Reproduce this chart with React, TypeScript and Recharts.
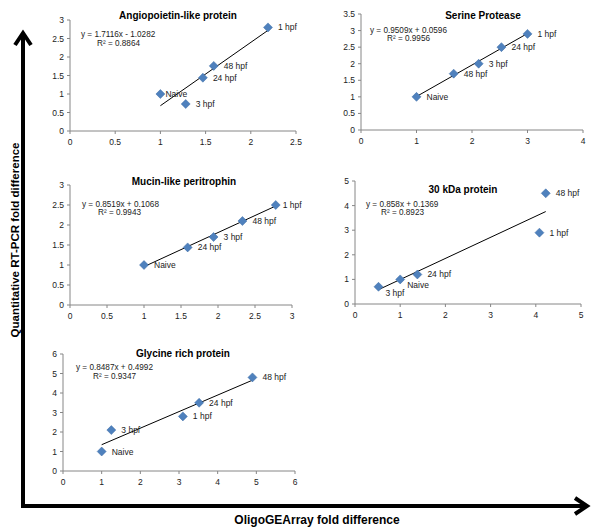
import React from "react";
import { ScatterChart, Scatter, XAxis, YAxis } from "recharts";

// ---------- DATA ----------
const angLabels = ["Naive", "3 hpf", "24 hpf", "48 hpf", "1 hpf"];
const angX = [1, 1.28, 1.47, 1.59, 2.19];
const angY = [1, 0.73, 1.44, 1.76, 2.8];
const angXTicks = [0, 0.5, 1, 1.5, 2, 2.5];
const angYTicks = [0, 0.5, 1, 1.5, 2, 2.5, 3];

const serLabels = ["Naive", "48 hpf", "3 hpf", "24 hpf", "1 hpf"];
const serX = [1, 1.67, 2.12, 2.53, 3.0];
const serY = [1, 1.7, 2.0, 2.5, 2.9];
const serXTicks = [0, 1, 2, 3, 4];
const serYTicks = [0, 0.5, 1, 1.5, 2, 2.5, 3, 3.5];

const mucLabels = ["Naive", "24 hpf", "3 hpf", "48 hpf", "1 hpf"];
const mucX = [1, 1.59, 1.94, 2.33, 2.78];
const mucY = [1, 1.44, 1.7, 2.1, 2.5];
const mucXTicks = [0, 0.5, 1, 1.5, 2, 2.5, 3];
const mucYTicks = [0, 0.5, 1, 1.5, 2, 2.5, 3];

const kdaLabels = ["3 hpf", "Naive", "24 hpf", "1 hpf", "48 hpf"];
const kdaX = [0.52, 1, 1.38, 4.08, 4.22];
const kdaY = [0.7, 1, 1.2, 2.9, 4.5];
const kdaXTicks = [0, 1, 2, 3, 4, 5];
const kdaYTicks = [0, 1, 2, 3, 4, 5];

const glyLabels = ["Naive", "3 hpf", "1 hpf", "24 hpf", "48 hpf"];
const glyX = [1, 1.25, 3.1, 3.52, 4.9];
const glyY = [1, 2.1, 2.8, 3.5, 4.8];
const glyXTicks = [0, 1, 2, 3, 4, 5, 6];
const glyYTicks = [0, 1, 2, 3, 4, 5, 6];

// trendline coefficients (slope, intercept) and R²
const angFit = [1.7116, -1.0282, 0.8864];
const serFit = [0.9509, 0.0596, 0.9956];
const mucFit = [0.8519, 0.1068, 0.9943];
const kdaFit = [0.858, 0.1369, 0.8923];
const glyFit = [0.8487, 0.4992, 0.9347];

const titles = [
  "Angiopoietin-like protein",
  "Serine Protease",
  "Mucin-like peritrophin",
  "30 kDa protein",
  "Glycine rich protein",
];
const eqTexts = [
  "y = 1.7116x - 1.0282",
  "y = 0.9509x + 0.0596",
  "y = 0.8519x + 0.1068",
  "y = 0.858x + 0.1369",
  "y = 0.8487x + 0.4992",
];
const r2Texts = ["R² = 0.8864", "R² = 0.9956", "R² = 0.9943", "R² = 0.8923", "R² = 0.9347"];

// ---------- LAYOUT ----------
const FONT = "'Liberation Sans', Arial, sans-serif";
const BLUE = "#4F81BD";
const AXIS = "#868686";

type Box = { x0: number; y0: number; x1: number; y1: number };
const boxes: Box[] = [
  { x0: 70, y0: 20, x1: 296, y1: 131 },
  { x0: 361, y0: 14, x1: 583, y1: 130 },
  { x0: 70, y0: 185, x1: 292, y1: 305 },
  { x0: 355, y0: 181, x1: 581, y1: 304 },
  { x0: 63, y0: 354, x1: 295, y1: 471 },
];
const titlePos = [
  [178, 19],
  [483, 19],
  [184, 185],
  [463, 193],
  [183, 357],
];
const eqPos = [
  [81, 37, 97, 46],
  [370, 33, 387, 41],
  [82, 207, 98, 215],
  [366, 207, 381, 215],
  [76, 370, 93, 379],
];
// label offsets (dx, dy baseline) for special cases
const labelOffsets: Record<string, [number, number]> = {
  "0:Naive": [5, 3],
  "2:1 hpf": [7, 3],
  "3:Naive": [7, 9],
  "3:3 hpf": [7, 9],
};

type Panel = {
  labels: string[];
  xs: number[];
  ys: number[];
  xTicks: number[];
  yTicks: number[];
  fit: number[];
};
const panels: Panel[] = [
  { labels: angLabels, xs: angX, ys: angY, xTicks: angXTicks, yTicks: angYTicks, fit: angFit },
  { labels: serLabels, xs: serX, ys: serY, xTicks: serXTicks, yTicks: serYTicks, fit: serFit },
  { labels: mucLabels, xs: mucX, ys: mucY, xTicks: mucXTicks, yTicks: mucYTicks, fit: mucFit },
  { labels: kdaLabels, xs: kdaX, ys: kdaY, xTicks: kdaXTicks, yTicks: kdaYTicks, fit: kdaFit },
  { labels: glyLabels, xs: glyX, ys: glyY, xTicks: glyXTicks, yTicks: glyYTicks, fit: glyFit },
];

const YW = 34;
const MT = 10;
const MR = 40;
const XH = 24;

function PanelChart({ p, box, idx }: { p: Panel; box: Box; idx: number }) {
  const pts = p.xs.map((x, i) => ({ x, y: p.ys[i], label: p.labels[i] }));
  const xmin = Math.min(...p.xs);
  const xmax = Math.max(...p.xs);
  const trend = [
    { x: xmin, y: p.fit[0] * xmin + p.fit[1] },
    { x: xmax, y: p.fit[0] * xmax + p.fit[1] },
  ];
  const w = box.x1 - box.x0 + YW + MR;
  const h = box.y1 - box.y0 + MT + XH;
  const tickStyle = { fontSize: 8.5, fill: "#222", fontFamily: FONT };
  const shape = (props: any) => {
    const { cx, cy, payload } = props;
    if (cx == null || cy == null) return <g />;
    const off = labelOffsets[`${idx}:${payload.label}`] || [10, 3];
    const r = 4.5;
    return (
      <g>
        <polygon
          points={`${cx},${cy - r} ${cx + r},${cy} ${cx},${cy + r} ${cx - r},${cy}`}
          fill={BLUE}
          stroke="#3A6AA5"
          strokeWidth={0.5}
        />
        <text x={cx + off[0]} y={cy + off[1]} fontSize={8.5} fontFamily={FONT} fill="#222">
          {payload.label}
        </text>
      </g>
    );
  };
  return (
    <div style={{ position: "absolute", left: box.x0 - YW, top: box.y0 - MT }}>
      <ScatterChart width={w} height={h} margin={{ top: MT, right: MR, left: 0, bottom: 0 }}>
        <XAxis
          type="number"
          dataKey="x"
          domain={[p.xTicks[0], p.xTicks[p.xTicks.length - 1]]}
          ticks={p.xTicks}
          height={XH}
          tickSize={3}
          tickMargin={5}
          stroke={AXIS}
          tick={tickStyle}
        />
        <YAxis
          type="number"
          dataKey="y"
          domain={[p.yTicks[0], p.yTicks[p.yTicks.length - 1]]}
          ticks={p.yTicks}
          width={YW}
          tickSize={3}
          tickMargin={3}
          stroke={AXIS}
          tick={tickStyle}
        />
        <Scatter
          data={trend}
          line={{ stroke: "#000", strokeWidth: 1 }}
          shape={() => <g />}
          isAnimationActive={false}
        />
        <Scatter data={pts} fill={BLUE} shape={shape} isAnimationActive={false} />
      </ScatterChart>
    </div>
  );
}

export default function App() {
  return (
    <div
      style={{
        position: "absolute",
        left: 0,
        top: 0,
        width: 600,
        height: 532,
        background: "#fff",
        fontFamily: FONT,
      }}
    >
      {panels.map((p, i) => (
        <PanelChart key={i} p={p} box={boxes[i]} idx={i} />
      ))}
      <svg
        width={600}
        height={532}
        style={{ position: "absolute", left: 0, top: 0, pointerEvents: "none" }}
      >
        {titles.map((t, i) => (
          <text
            key={"t" + i}
            x={titlePos[i][0]}
            y={titlePos[i][1]}
            textAnchor="middle"
            fontSize={10}
            fontWeight="bold"
            fontFamily={FONT}
            fill="#000"
          >
            {t}
          </text>
        ))}
        {eqTexts.map((t, i) => (
          <g key={"e" + i}>
            <text x={eqPos[i][0]} y={eqPos[i][1]} fontSize={8.2} fontFamily={FONT} fill="#222">
              {t}
            </text>
            <text x={eqPos[i][2]} y={eqPos[i][3]} fontSize={8.2} fontFamily={FONT} fill="#222">
              {r2Texts[i]}
            </text>
          </g>
        ))}
        {/* big axes */}
        <path d="M23 506 L23 34" stroke="#000" strokeWidth={4} fill="none" />
        <path d="M15 45 L23 33 L31 45" stroke="#000" strokeWidth={4} fill="none" strokeLinejoin="miter" />
        <path d="M21 506 L586 506" stroke="#000" strokeWidth={4} fill="none" />
        <path d="M575 498 L587 506 L575 514" stroke="#000" strokeWidth={4} fill="none" strokeLinejoin="miter" />
        <text
          x={317}
          y={524}
          textAnchor="middle"
          fontSize={12}
          fontWeight="bold"
          fontFamily={FONT}
          fill="#000"
        >
          OligoGEArray fold difference
        </text>
        <text
          x={19}
          y={240}
          textAnchor="middle"
          fontSize={11.5}
          fontWeight="bold"
          fontFamily={FONT}
          fill="#000"
          transform="rotate(-90 19 240)"
        >
          Quantitative RT-PCR fold difference
        </text>
      </svg>
    </div>
  );
}
